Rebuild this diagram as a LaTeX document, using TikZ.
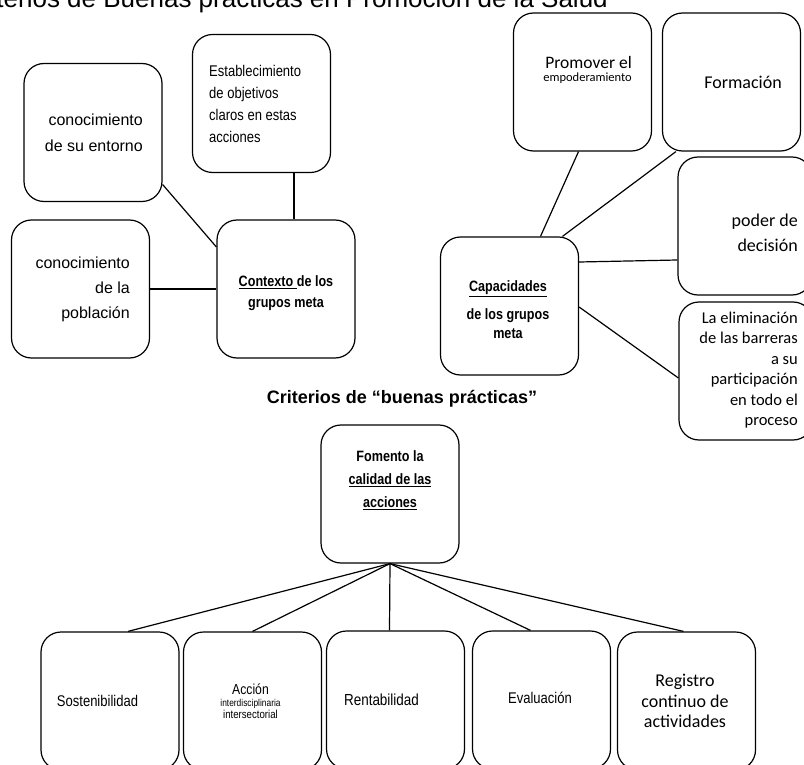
\documentclass[tikz,border=0pt]{standalone}
\usepackage{fontspec}
\setmainfont{Liberation Sans}
\newfontfamily\calibri{Carlito}
\newfontfamily\narrow[FakeStretch=0.84]{Liberation Sans}
\usepackage{tikz}
\usetikzlibrary{positioning,calc}
\newcommand{\fs}[2]{\fontsize{#1}{#2}\selectfont}

\tikzset{
	kasten/.style={draw, line width=1.2pt, rounded corners=20pt, minimum width=138pt, minimum height=138pt, inner sep=0pt},
	linie/.style={line width=1.2pt},
	txt/.style={inner sep=0pt},
}

\begin{document}
\begin{tikzpicture}[x=1pt,y=-1pt]
	\useasboundingbox (0,0) rectangle (804,765);

	% Titel (oben abgeschnitten)
	\node[txt, anchor=base east, font=\fs{26}{30}] (titel) at (608,7.5) {Criterios de Buenas prácticas en Promoción de la Salud};

	% Kontext der Zielgruppen
	\node[kasten] (entorno) at (93,132.5) {};
	\node[kasten] (establ) at (261.5,103.5) {};
	\node[kasten] (ctx) at (286,289) {};
	\node[kasten] (pobl) at (80.5,289) {};

	\node[txt, font=\fs{16}{26}, align=right, anchor=east] (t-entorno) at ([xshift=50pt]entorno.center) {conocimiento\\de su entorno};
	\node[txt, font=\narrow\fs{15.5}{22}, align=left, anchor=west] (t-establ) at ([xshift=-52.5pt]establ.center) {Establecimiento\\de objetivos\\claros en estas\\acciones};
	\node[txt, font=\narrow\bfseries\fs{15}{21}, align=center] (t-ctx) at ([yshift=-4pt]ctx.center) {\underline{Contexto\ }de los\\grupos meta};
	\node[txt, font=\fs{16}{25}, align=right, anchor=east] (t-pobl) at ([xshift=49.5pt]pobl.center) {conocimiento\\de la\\población};

	\draw[linie] ([xshift=32.5pt]establ.south) -- ([xshift=32.5pt]establ.south |- ctx.north);
	\draw[linie] ([yshift=-52pt]entorno.east) -- ([yshift=42pt]ctx.west);
	\draw[linie] (pobl.east) -- (ctx.west);

	% Capacidades
	\node[kasten] (prom) at (582.5,82) {};
	\node[kasten] (form) at (731.5,82) {};
	\node[kasten, minimum width=134pt] (poder) at (745,226) {};
	\node[kasten, minimum width=134pt] (elim) at (746,371) {};
	\node[kasten] (cap) at (509.5,306) {};

	\node[txt, font=\calibri, align=right, anchor=east] (t-prom) at ([xshift=49.5pt,yshift=12pt]prom.center) {{\fs{17.5}{16}Promover el}\\[1pt]{\fs{12.5}{16}empoderamiento}};
	\node[txt, font=\calibri\fs{18}{22}] (t-form) at ([xshift=11.5pt]form.center) {Formación};
	\node[txt, font=\calibri\fs{18}{25}, align=right, anchor=east] (t-poder) at ([xshift=53pt,yshift=-6.5pt]poder.center) {poder de\\decisión};
	\node[txt, font=\calibri\fs{16.5}{20.4}, align=right, anchor=east] (t-elim) at ([xshift=52pt,yshift=1pt]elim.center) {La eliminación\\de las barreras\\a su\\participación\\en todo el\\proceso};
	\node[txt, font=\narrow\bfseries\fs{15}{19}, align=center] (t-cap) at ([xshift=-1.5pt,yshift=-3.5pt]cap.center) {\underline{Capacidades}\\[9pt]de los grupos\\meta};

	\draw[linie] ([xshift=-4pt]prom.south) -- ([xshift=31pt]cap.north);
	\draw[linie] ([xshift=14pt]form.south west) -- ([xshift=53pt]cap.north);
	\draw[linie] ([yshift=44pt]cap.east) -- ([yshift=-34pt]poder.west);
	\draw[linie] ([yshift=-1pt]cap.east) -- ([yshift=-7pt]elim.west);

	% Criterios
	\node[txt, font=\bfseries\fs{18}{20}] (krit) at (402,399) {Criterios de “buenas prácticas”};

	\node[kasten] (fom) at (390,494) {};
	\node[txt, font=\narrow\bfseries\fs{15}{23}, align=center] (t-fom) at ([yshift=14pt]fom.center) {Fomento la\\\underline{calidad de las}\\\underline{acciones}};

	\node[kasten] (sost) at (110,701) {};
	\node[kasten] (accion) at (252.5,701) {};
	\node[kasten] (rent) at (395.5,700) {};
	\node[kasten] (eval) at (541.5,700) {};
	\node[kasten] (regis) at (686.5,701) {};

	\node[txt, font=\narrow\fs{15.5}{20}] (t-sost) at ([xshift=-12.5pt]sost.center) {Sostenibilidad};
	\node[txt, font=\narrow, align=center] (t-accion) at ([xshift=-2pt]accion.center) {{\fs{14.5}{17}Acción}\\{\fs{10}{16}interdisciplinaria}\\{\fs{11.5}{16}intersectorial}};
	\node[txt, font=\narrow\fs{16}{20}] (t-rent) at ([xshift=-14pt]rent.center) {Rentabilidad};
	\node[txt, font=\narrow\fs{15.5}{20}] (t-eval) at ([xshift=-1.5pt,yshift=2pt]eval.center) {Evaluación};
	\node[txt, font=\calibri\fs{18}{20.5}, align=center] (t-regis) at ([xshift=-1.5pt]regis.center) {Registro\\continuo de\\actividades};

	\draw[linie] (fom.south) -- ([xshift=18pt]sost.north);
	\draw[linie] (fom.south) -- (accion.north);
	\draw[linie] (fom.south) -- ([xshift=-6pt]rent.north);
	\draw[linie] (fom.south) -- ([xshift=-11pt]eval.north);
	\draw[linie] (fom.south) -- ([xshift=-3pt]regis.north);

\end{tikzpicture}
\end{document}
